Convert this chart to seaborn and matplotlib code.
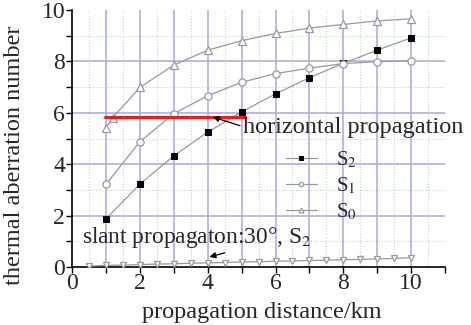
import matplotlib
matplotlib.use("Agg")
import matplotlib.pyplot as plt
import seaborn as sns
import pandas as pd
import numpy as np

# ---- data ----
x_main = [1, 2, 3, 4, 5, 6, 7, 8, 9, 10]
s2 = [1.88, 3.23, 4.33, 5.25, 6.04, 6.74, 7.37, 7.93, 8.44, 8.92]
s1 = [3.22, 4.88, 5.97, 6.67, 7.19, 7.53, 7.74, 7.92, 7.99, 8.03]
x_s0 = [1, 1.2, 2, 3, 4, 5, 6, 7, 8, 9, 10]
s0 = [5.42, 5.82, 6.99, 7.86, 8.44, 8.81, 9.09, 9.30, 9.44, 9.58, 9.66]
x_slant = [0.5, 1, 1.5, 2, 2.5, 3, 3.5, 4, 4.5, 5, 5.5, 6, 6.5, 7, 7.5, 8, 8.5, 9, 9.5, 10]
slant = [0.04, 0.07, 0.08, 0.10, 0.12, 0.13, 0.15, 0.17, 0.18, 0.20,
         0.21, 0.23, 0.24, 0.26, 0.27, 0.29, 0.30, 0.32, 0.34, 0.37]
horiz_x = [0.97, 5.09]
horiz_y = [5.84, 5.84]

sns.set_style("white")
plt.rcParams['font.family'] = ['Liberation Serif', 'DejaVu Serif']
plt.rcParams['mathtext.fontset'] = 'stix'

fig = plt.figure(figsize=(4.71, 3.25), dpi=100)
ax = fig.add_axes([0.153, 0.178, 0.792, 0.791])

ax.set_xlim(0, 11)
ax.set_ylim(0, 10)

# grid lines
blue = '#a8a8dc'
green = '#b8dcb8'
for xv in np.arange(0.5, 11, 1.0):
    ax.axvline(xv, color=green, lw=0.8, ls=':', zorder=0)
for yv in [1, 3, 5, 7, 9]:
    ax.axhline(yv, color=green, lw=0.8, ls=':', zorder=0)
for xv in range(1, 11):
    ax.axvline(xv, color=blue, lw=1.1, zorder=0.5)
for yv in [2, 4, 6, 8]:
    ax.axhline(yv, color=blue, lw=1.1, zorder=0.5)

gray = '#999999'
d2 = pd.DataFrame({'x': x_main, 'y': s2})
d1 = pd.DataFrame({'x': x_main, 'y': s1})
d0 = pd.DataFrame({'x': x_s0, 'y': s0})
ds = pd.DataFrame({'x': x_slant, 'y': slant})

sns.lineplot(data=d2, x='x', y='y', ax=ax, color=gray, lw=0.9, marker='s',
             markersize=3.8, markerfacecolor='black', markeredgecolor='black',
             label='S$_2$', zorder=3)
sns.lineplot(data=d1, x='x', y='y', ax=ax, color=gray, lw=0.9, marker='o',
             markersize=5.2, markerfacecolor='white', markeredgecolor=gray,
             markeredgewidth=0.9, label='S$_1$', zorder=3)
sns.lineplot(data=d0, x='x', y='y', ax=ax, color=gray, lw=0.9, marker='^',
             markersize=5.8, markerfacecolor='white', markeredgecolor=gray,
             markeredgewidth=0.9, label='S$_0$', zorder=3)
sns.lineplot(data=ds, x='x', y='y', ax=ax, color=gray, lw=0.9, marker='v',
             markersize=4.8, markerfacecolor='white', markeredgecolor=gray,
             markeredgewidth=0.9, zorder=3, legend=False)
ax.plot(horiz_x, horiz_y, color='#ee1c1c', lw=2.2, zorder=4)

ax.annotate('horizontal propagation', xy=(4.15, 5.84), xytext=(5.05, 5.42),
            fontsize=17.5, va='center', ha='left', zorder=5,
            arrowprops=dict(arrowstyle='-|>', color='black', lw=0.9,
                            mutation_scale=9, shrinkA=0, shrinkB=0,
                            relpos=(0.0, 0.55)))
ax.annotate('slant propagaton:30°, S$_2$', xy=(4.05, 0.4), xytext=(0.28, 1.17),
            fontsize=16.8, va='center', ha='left', zorder=5,
            arrowprops=dict(arrowstyle='-|>', color='black', lw=0.9,
                            mutation_scale=9, shrinkA=0, shrinkB=0,
                            relpos=(0.68, 0.0)))

ax.set_xticks(range(0, 12))
ax.set_xticklabels([str(v) if v % 2 == 0 and v <= 10 else '' for v in range(0, 12)])
ax.set_yticks(range(0, 11))
ax.set_yticklabels([str(v) if v % 2 == 0 else '' for v in range(0, 11)])
ax.tick_params(axis='both', direction='out', length=4, width=1, color='black',
               labelsize=17, pad=1)
ax.tick_params(axis='x', bottom=True, pad=0)
ax.tick_params(axis='y', left=True)

for s in ['top', 'right']:
    ax.spines[s].set_visible(False)
for s in ['left', 'bottom']:
    ax.spines[s].set_color('black')
    ax.spines[s].set_linewidth(1.2)

ax.set_xlabel('propagation distance/km', fontsize=17.5)
ax.xaxis.set_label_coords(0.508, -0.135)
ax.set_ylabel('thermal aberration number', fontsize=17.5)
ax.yaxis.set_label_coords(-0.127, 0.436)

leg = ax.legend(loc='upper left', bbox_to_anchor=(0.55, 0.49), frameon=False,
                fontsize=15, handlelength=1.5, handletextpad=0.9,
                labelspacing=0.25, borderaxespad=0, markerscale=0.6)

fig.savefig('out.png', dpi=100)
